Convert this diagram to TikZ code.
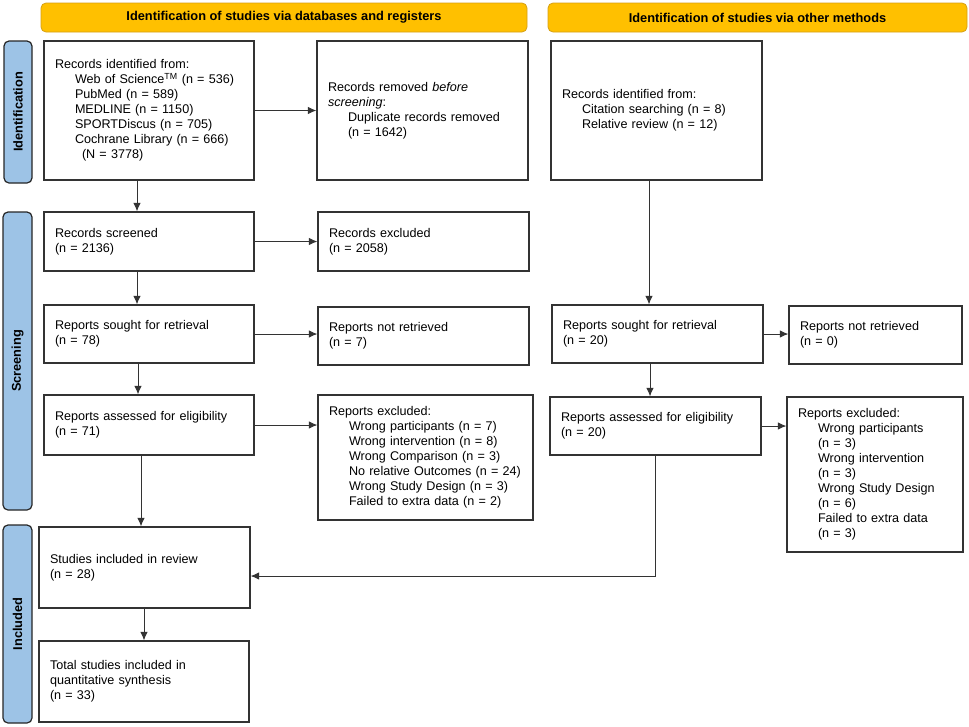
\documentclass[tikz,border=0pt]{standalone}
\usepackage{fontspec}
\setmainfont{Liberation Sans}
\usepackage{tikz}
\usetikzlibrary{arrows.meta}
\definecolor{headfill}{RGB}{255,192,0}
\definecolor{headline}{RGB}{214,160,20}
\definecolor{sidefill}{RGB}{157,195,230}
\newcommand{\indt}{\hspace*{20pt}}
\begin{document}
\begin{tikzpicture}[x=1pt, y=-1pt,
    box/.style={draw=black!80, line width=1.2pt, inner xsep=11pt, text width=#1,
        align=left, font=\fontsize{12.6}{15}\selectfont},
    head/.style={draw=headline, fill=headfill, line width=0.8pt, rounded corners=5pt,
        minimum height=29pt, font=\bfseries\fontsize{12.8}{15}\selectfont},
    side/.style={draw=black!85, fill=sidefill, line width=1.2pt, rounded corners=5pt,
        rotate=90, font=\bfseries\fontsize{12.8}{15}\selectfont},
    arr/.style={draw=black!80, line width=0.9pt, -{Latex[length=8.5pt,width=7.5pt]}}]
            \useasboundingbox (0, 0) rectangle (969, 726);
            \node[head, minimum width=486pt] (head1) at (284, 17.5) {Identification of studies via databases and registers};
            \node[head, minimum width=419pt] (head2) at (757.5, 17.5) {Identification of studies via other methods};
            \node[side, minimum width=142pt, minimum height=28pt] (idlab) at (18, 112) {Identification};
            \node[side, minimum width=298pt, minimum height=29pt] (scrlab) at (17.5, 361) {Screening};
            \node[side, minimum width=198pt, minimum height=29pt] (inclab) at (17.5, 624) {Included};
            \node[box=188pt, minimum height=139pt] (ident) at (149, 110.5) {Records identified from:\\
                \indt Web of Science\textsuperscript{TM} (n = 536)\\ \indt PubMed (n = 589)\\
                \indt MEDLINE (n = 1150)\\ \indt SPORTDiscus (n = 705)\\
                \indt Cochrane Library (n = 666)\\ \hspace*{27pt}(N = 3778)};
            \node[box=189pt, minimum height=139pt] (remov) at (422.5, 110.5) {Records removed \textit{before}\\
                \textit{screening}:\\ \indt Duplicate records removed\\ \indt (n = 1642)};
            \node[box=189pt, minimum height=139pt] (other) at (656.5, 110.5) {Records identified from:\\
                \indt Citation searching (n = 8)\\ \indt Relative review (n = 12)};
            \node[box=188pt, minimum height=59pt] (screen) at (149, 241.5) {Records screened\\(n = 2136)};
            \node[box=189pt, minimum height=59pt] (exclud) at (423.5, 241.5) {Records excluded\\(n = 2058)};
            \node[box=188pt, minimum height=58pt] (sought) at (149, 334) {Reports sought for retrieval\\(n = 78)};
            \node[box=189pt, minimum height=58pt] (notret) at (423.5, 336) {Reports not retrieved\\(n = 7)};
            \node[box=189pt, minimum height=58pt] (soughtb) at (657.5, 334) {Reports sought for retrieval\\(n = 20)};
            \node[box=151pt, minimum height=58pt] (notretb) at (875.5, 335) {Reports not retrieved\\(n = 0)};
            \node[box=188pt, minimum height=60pt] (assess) at (149, 425) {Reports assessed for eligibility\\(n = 71)};
            \node[box=193pt, minimum height=125pt] (exrep) at (425.5, 457.5) {Reports excluded:\\
                \indt Wrong participants (n = 7)\\ \indt Wrong intervention (n = 8)\\
                \indt Wrong Comparison (n = 3)\\ \indt No relative Outcomes (n = 24)\\
                \indt Wrong Study Design (n = 3)\\ \indt Failed to extra data (n = 2)};
            \node[box=189pt, minimum height=58pt] (assessb) at (655.5, 426) {Reports assessed for eligibility\\(n = 20)};
            \node[box=154pt, minimum height=155pt] (exrepb) at (875, 474.5) {Reports excluded:\\
                \indt Wrong participants\\ \indt (n = 3)\\ \indt Wrong intervention\\ \indt (n = 3)\\
                \indt Wrong Study Design\\ \indt (n = 6)\\ \indt Failed to extra data\\ \indt (n = 3)};
            \node[box=189pt, minimum height=81pt] (incl) at (144.5, 567.5) {Studies included in review\\(n = 28)};
            \node[box=188pt, minimum height=81pt] (total) at (144, 681.5) {Total studies included in\\
                quantitative synthesis\\(n = 33)};
            \draw[arr] ([xshift=-12pt]ident.south) -- ([xshift=-12pt]screen.north);
            \draw[arr] (ident.east) -- (remov.west);
            \draw[arr] (screen.east) -- (exclud.west);
            \draw[arr] ([xshift=-12pt]screen.south) -- ([xshift=-12pt]sought.north);
            \draw[arr] (sought.east) -- (sought.east -| notret.west);
            \draw[arr] ([xshift=-11pt]sought.south) -- ([xshift=-11pt]assess.north);
            \draw[arr] (assess.east) -- (assess.east -| exrep.west);
            \draw[arr] ([xshift=-8pt]assess.south) -- ([xshift=-8pt]assess.south |- incl.north);
            \draw[arr] (incl.south -| total.north) -- (total.north);
            \draw[arr] ([xshift=-7.5pt]other.south) -- ([xshift=-7.5pt]other.south |- soughtb.north);
            \draw[arr] (soughtb.east) -- (soughtb.east -| notretb.west);
            \draw[arr] ([xshift=-7.5pt]soughtb.south) -- ([xshift=-7.5pt]soughtb.south |- assessb.north);
            \draw[arr] (assessb.east) -- (assessb.east -| exrepb.west);
            \draw[arr] (assessb.south) |- ([yshift=-8.5pt]incl.east);
    \end{tikzpicture}
\end{document}
